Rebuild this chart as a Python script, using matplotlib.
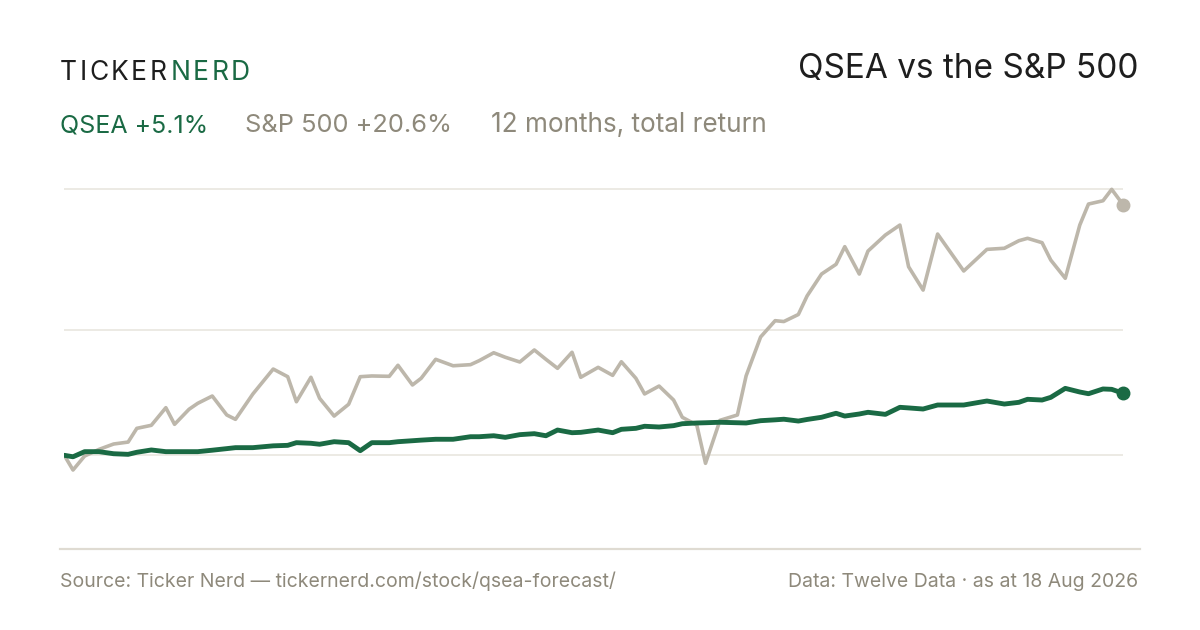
import matplotlib
matplotlib.use("Agg")
import matplotlib.pyplot as plt
import pandas as pd
from matplotlib.lines import Line2D

plt.rcParams["font.family"] = ["Inter", "DejaVu Sans"]

# calendar-day offsets from the start date (points every ~3 trading days)
start_date = pd.Timestamp("2025-08-18")
day_offsets = [0, 3, 7, 12, 17, 22, 25, 30, 35, 38, 43, 46, 51, 56, 59, 65, 72, 77, 80,
               85, 88, 93, 98, 102, 106, 112, 115, 120, 123, 128, 134, 140, 143, 148,
               152, 157, 162, 166, 170, 175, 178, 184, 189, 192, 197, 200, 205, 210,
               213, 218, 221, 226, 232, 235, 240, 245, 248, 253, 256, 261, 266, 269,
               274, 277, 283, 288, 291, 296, 301, 310, 318, 324, 329, 332, 337, 340,
               345, 350, 353, 358, 361, 365]

# cumulative total return, %
spx_ret = [0.00, -1.21, -0.06, 0.49, 0.93, 1.09, 2.22, 2.47, 3.92, 2.55, 3.79, 4.28, 4.88,
           3.32, 2.96, 5.05, 7.10, 6.47, 4.41, 6.42, 4.69, 3.23, 4.20, 6.47, 6.53, 6.50,
           7.41, 5.79, 6.34, 7.90, 7.37, 7.46, 7.79, 8.44, 8.07, 7.68, 8.67, 7.90, 7.16,
           8.48, 6.42, 7.24, 6.58, 7.70, 6.34, 5.05, 5.70, 4.55, 3.13, 2.49, -0.66, 2.88,
           3.32, 6.54, 9.74, 11.08, 11.01, 11.59, 13.11, 14.92, 15.72, 17.17, 14.92, 16.81,
           18.13, 18.95, 15.52, 13.60, 18.21, 15.17, 16.95, 17.04, 17.66, 17.86, 17.50,
           16.07, 14.57, 18.95, 20.68, 20.95, 21.89, 20.60]

qsea_ret = [0.00, -0.12, 0.30, 0.30, 0.13, 0.08, 0.25, 0.44, 0.30, 0.30, 0.30, 0.30, 0.42,
            0.55, 0.63, 0.63, 0.78, 0.82, 1.04, 0.99, 0.91, 1.12, 1.04, 0.38, 1.04, 1.04,
            1.12, 1.20, 1.25, 1.32, 1.32, 1.53, 1.53, 1.61, 1.48, 1.70, 1.78, 1.61, 2.08,
            1.86, 1.89, 2.08, 1.86, 2.14, 2.22, 2.39, 2.33, 2.44, 2.60, 2.66, 2.68, 2.72,
            2.68, 2.66, 2.85, 2.92, 2.97, 2.82, 2.95, 3.13, 3.46, 3.23, 3.40, 3.54, 3.37,
            3.95, 3.90, 3.81, 4.14, 4.14, 4.47, 4.22, 4.36, 4.61, 4.55, 4.77, 5.51, 5.21,
            5.07, 5.46, 5.43, 5.10]

GREEN = "#1a6a44"
SPX_GREY = "#bdb7ab"
TEXT_GREY = "#8e897b"
DARK = "#1e1e1e"
GRID = "#ebe8e2"

dates = start_date + pd.to_timedelta(day_offsets, unit="D")

fig = plt.figure(figsize=(12, 6.3), dpi=100)
fig.patch.set_facecolor("white")

ax = fig.add_axes([64.3 / 1200, 1 - 540 / 630, 1059 / 1200, 365 / 630])
ax.set_xlim(dates[0], dates[-1])
ax.set_ylim(-6.97, 23.07)
ax.axis("off")

# gridlines: zero, mid-range and top of range
lo, hi = min(spx_ret), max(spx_ret)
for g in (0, (lo + hi) / 2, hi):
    ax.axhline(g, color=GRID, lw=1.3, zorder=0)

ax.plot(dates, spx_ret, color=SPX_GREY, lw=2.6, zorder=2, solid_capstyle="round")
ax.plot(dates, qsea_ret, color=GREEN, lw=3.5, zorder=3, solid_capstyle="round")
ax.plot(dates[-1], spx_ret[-1], "o", ms=9, color=SPX_GREY, zorder=4, clip_on=False)
ax.plot(dates[-1], qsea_ret[-1], "o", ms=9, color=GREEN, zorder=5, clip_on=False)

fig.add_artist(Line2D([60 / 1200, 1140 / 1200], [1 - 549 / 630] * 2,
                      color="#dfdbd2", lw=1.6))


def px(x, y):
    return x / 1200, 1 - y / 630


# brand, letter-spaced
renderer = fig.canvas.get_renderer()
x = 60
for word, col in (("TICKER", DARK), ("NERD", GREEN)):
    for ch in word:
        t = fig.text(*px(x, 80), ch, fontsize=19, color=col, va="baseline", ha="left")
        x += t.get_window_extent(renderer).width + 2.4
    x += 2

fig.text(*px(1138, 78), "QSEA vs the S&P 500", fontsize=24, color=DARK,
         ha="right", va="baseline")

fig.text(*px(60, 132), "QSEA +5.1%", fontsize=18, color=GREEN, va="baseline")
fig.text(*px(245, 132), "S&P 500 +20.6%", fontsize=18.3, color=TEXT_GREY, va="baseline")
fig.text(*px(491, 132), "12 months, total return", fontsize=18.8, color=TEXT_GREY,
         va="baseline")

fig.text(*px(60, 587), "Source: Ticker Nerd — tickernerd.com/stock/qsea-forecast/",
         fontsize=14, color=TEXT_GREY, va="baseline")
fig.text(*px(1138, 587), "Data: Twelve Data · as at 18 Aug 2026", fontsize=14,
         color=TEXT_GREY, va="baseline", ha="right")

fig.savefig("out.png", dpi=100)
